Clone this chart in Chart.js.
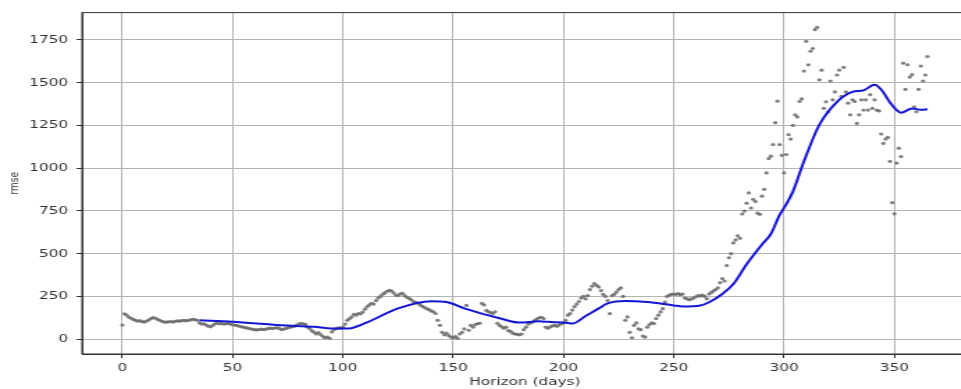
<!DOCTYPE html>
<html>
<head>
<meta charset="utf-8">
<script src="https://cdn.jsdelivr.net/npm/chart.js@4"></script>
<style>
  html, body { margin: 0; padding: 0; background: #fff; overflow: hidden; }
  #wrap { width: 961px; height: 389px; overflow: hidden; }
  #stretch { width: 712px; height: 389px; transform: scaleX(1.3904); transform-origin: 0 0; }
  #rmse-chart { display: block; }
</style>
</head>
<body>
<div id="wrap"><div id="stretch"><canvas id="rmse-chart" width="712" height="389"></canvas></div></div>
<script>
// horizon ticks / rmse ticks
const xTicks = [0, 50, 100, 150, 200, 250, 300, 350];
const yTicks = [0, 250, 500, 750, 1000, 1250, 1500, 1750];

// rmse for every horizon day (index = day)
const rmseDaily = [
  82, 148, 140, 128, 122, 115, 110, 105, 108, 102,
  100, 106, 112, 120, 126, 122, 115, 110, 104, 100,
  99, 101, 103, 100, 104, 107, 105, 108, 110, 107,
  110, 113, 116, 114, 110, 95, 88, 90, 82, 76,
  72, 80, 90, 93, 90, 92, 88, 90, 92, 88,
  84, 82, 80, 76, 72, 70, 66, 64, 60, 58,
  55, 54, 56, 58, 56, 58, 62, 64, 62, 65,
  66, 64, 56, 58, 62, 66, 70, 72, 75, 82,
  88, 92, 90, 86, 70, 60, 48, 40, 30, 38,
  25, 15, 8, 12, 5, 42, 55, 62, 66, 64,
  70, 88, 110, 120, 130, 145, 140, 150, 148, 158,
  175, 190, 200, 210, 205, 225, 240, 250, 262, 270,
  280, 285, 282, 270, 258, 255, 265, 268, 255, 245,
  238, 230, 220, 215, 210, 200, 192, 185, 178, 172,
  165, 160, 150, 110, 81, 40, 25, 35, 20, 12,
  8, 15, 5, 30, 40, 60, 197, 52, 81, 70,
  85, 90, 93, 209, 200, 168, 160, 155, 150, 160,
  93, 80, 72, 64, 70, 50, 45, 35, 30, 28,
  25, 30, 55, 70, 88, 95, 100, 110, 118, 125,
  128, 120, 70, 64, 72, 78, 80, 75, 82, 90,
  95, 110, 140, 150, 170, 190, 205, 220, 240, 250,
  235, 255, 290, 310, 325, 315, 305, 284, 262, 250,
  226, 149, 255, 262, 275, 290, 300, 250, 110, 130,
  40, 8, 80, 95, 60, 55, 18, 12, 70, 85,
  95, 91, 120, 140, 159, 178, 217, 250, 258, 262,
  264, 262, 266, 260, 264, 240, 236, 230, 236, 240,
  248, 255, 252, 258, 250, 236, 264, 273, 282, 290,
  300, 330, 354, 340, 430, 476, 500, 563, 580, 604,
  590, 732, 749, 795, 855, 767, 818, 805, 737, 730,
  836, 876, 972, 1056, 1070, 1138, 1266, 1392, 1138, 1075,
  972, 1080, 1196, 1170, 1250, 1312, 1300, 1390, 1405, 1568,
  1742, 1605, 1684, 1700, 1810, 1823, 1517, 1573, 1350, 1388,
  1330, 1510, 1400, 1446, 1545, 1574, 1420, 1590, 1446, 1380,
  1312, 1400, 1390, 1262, 1312, 1400, 1340, 1400, 1340, 1430,
  1350, 1400, 1340, 1335, 1200, 1145, 1170, 1180, 1040, 798,
  733, 1030, 1117, 1068, 1614, 1461, 1605, 1533, 1547, 1359,
  1330, 1461, 1597, 1510, 1545, 1653
];

// smoothed rolling rmse (blue line)
const trendDays = [35, 50, 72, 87, 95, 102, 110, 125, 140, 147, 155, 171, 180, 189, 193, 202, 204, 210, 216, 220, 228, 238, 250, 254, 262, 266, 272, 277, 283, 290, 294, 298, 300, 304, 309, 316, 324, 331, 336, 341, 344, 348, 351, 353, 358, 362, 365];
const trendRmse = [110, 101, 81, 72, 62, 62, 93, 180, 222, 217, 180, 122, 97, 104, 101, 95, 91, 135, 180, 209, 223, 217, 197, 191, 197, 216, 264, 322, 438, 554, 615, 727, 768, 863, 1040, 1254, 1388, 1446, 1455, 1488, 1460, 1384, 1340, 1324, 1349, 1342, 1345];

const pts = rmseDaily.map((v, i) => ({ x: i, y: v }));
const trend = trendDays.map((d, i) => ({ x: d, y: trendRmse[i] }));

const frame = {
    id: 'frame',
    afterDraw(chart) {
        const a = chart.chartArea;
        const c = chart.ctx;
        c.save();
        c.strokeStyle = '#333';
        c.lineWidth = 1;
        c.strokeRect(a.left, a.top, a.right - a.left, a.bottom - a.top);
        c.restore();
    }
};

const font = { family: 'DejaVu Sans', size: 11 };

new Chart(document.getElementById('rmse-chart'), {
    type: 'scatter',
    data: {
        datasets: [
            {
                data: trend,
                showLine: true,
                borderColor: '#1414d8',
                borderWidth: 2,
                pointRadius: 0,
                tension: 0.4,
                cubicInterpolationMode: 'monotone',
                fill: false,
            },
            {
                data: pts,
                pointRadius: 1.6,
                pointBorderWidth: 0,
                backgroundColor: 'rgba(105,105,105,0.85)',
                borderColor: 'rgba(105,105,105,0.85)',
            },
        ],
    },
    options: {
        responsive: false,
        devicePixelRatio: 1,
        animation: false,
        layout: { padding: { top: 10, right: 16, left: 0, bottom: 0 } },
        plugins: { legend: { display: false }, tooltip: { enabled: false } },
        scales: {
            x: {
                type: 'linear',
                min: -18.25,
                max: 383.25,
                afterBuildTicks: (s) => { s.ticks = xTicks.map(v => ({ value: v })); },
                afterFit: (s) => { s.height = 35; },
                grid: { color: '#b4b4b4', tickColor: '#333', tickLength: 4 },
                border: { color: '#333', width: 1 },
                ticks: { font: font, color: '#333', padding: 4, maxRotation: 0, callback: (v) => String(v) },
                title: { display: true, text: 'Horizon (days)', font: font, color: '#333', padding: 0 },
            },
            y: {
                min: -87,
                max: 1910,
                afterBuildTicks: (s) => { s.ticks = yTicks.map(v => ({ value: v })); },
                afterFit: (s) => { s.width = 59; },
                grid: { color: '#b4b4b4', tickColor: '#333', tickLength: 4 },
                border: { color: '#333', width: 1 },
                ticks: { font: font, color: '#333', padding: 6, callback: (v) => String(v) },
                title: { display: true, text: 'rmse', font: { family: 'DejaVu Sans', size: 9 }, color: '#333', padding: { top: 5, bottom: 0 } },
            },
        },
    },
    plugins: [frame],
});
</script>
</body>
</html>
